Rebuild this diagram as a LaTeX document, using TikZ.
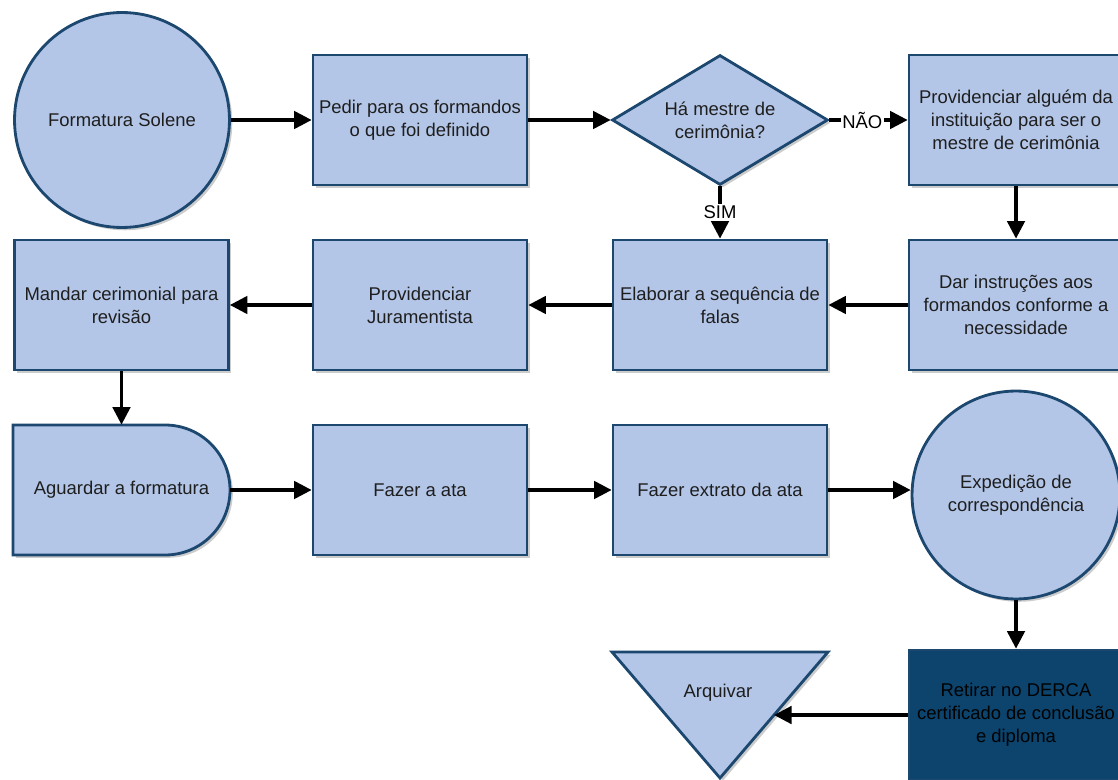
\documentclass[tikz,border=0pt]{standalone}
\usepackage{fontspec}
\setmainfont{Liberation Sans}
\usetikzlibrary{shapes.geometric, arrows.meta, shadows}

\definecolor{boxfill}{RGB}{180,198,231}
\definecolor{boxline}{RGB}{28,72,112}
\definecolor{darkfill}{RGB}{12,68,110}
\definecolor{txt}{RGB}{30,30,30}

\tikzset{
  shade/.style={drop shadow={shadow xshift=1.6pt, shadow yshift=-1.6pt, opacity=0.4}},
  base/.style={draw=boxline, line width=1.6pt, fill=boxfill, text=txt, align=center,
    font=\fontsize{10.5}{13}\selectfont, inner sep=0pt, shade},
  process/.style={base, rectangle, minimum width=4.28cm, minimum height=2.6cm},
  terminal/.style={base, circle, minimum size=4.3cm},
  decision/.style={base, diamond, aspect=1.66, minimum width=4.32cm, minimum height=2.6cm},
  darkbox/.style={process, fill=darkfill, text={RGB:red,225;green,232;blue,240}},
  plain/.style={align=center, text=txt, font=\fontsize{10.5}{13}\selectfont, inner sep=0pt},
  flow/.style={line width=1.8pt, -{Triangle[length=10pt,width=10pt]}},
  lbl/.style={fill=white, inner sep=1pt, text=black, font=\fontsize{10.5}{13}\selectfont}
}

\begin{document}
\begin{tikzpicture}[x=0.02cm, y=-0.02cm]
\useasboundingbox (0,0) rectangle (1118,780);

% row 1
\node[terminal] (A) at (122,120) {Formatura Solene};
\node[process] (B) at (420,120) {Pedir para os formandos\\o que foi definido};
\node[decision] (C) at (720,120) {Há mestre de\\cerimônia?};
\node[process] (D) at (1016,120) {Providenciar alguém da\\instituição para ser o\\mestre de cerimônia};

% row 2
\node[process] (E) at (121.5,305) {Mandar cerimonial para\\revisão};
\node[process] (F) at (420,305) {Providenciar\\Juramentista};
\node[process] (G) at (720,305) {Elaborar a sequência de\\falas};
\node[process] (H) at (1016,305) {Dar instruções aos\\formandos conforme a\\necessidade};

% row 3: delay shape drawn as a path, text node on top
\path[draw=boxline, line width=1.6pt, fill=boxfill, shade]
  (13,425) -- (165,425) .. controls (201,425) and (230,454) .. (230,490)
  .. controls (230,526) and (201,555) .. (165,555) -- (13,555) -- cycle;
\node[plain, rectangle, minimum width=4.34cm, minimum height=2.6cm] (I) at (121.5,490) {Aguardar a formatura};
\node[process] (J) at (420,490) {Fazer a ata};
\node[process] (K) at (720,490) {Fazer extrato da ata};
\node[terminal, minimum size=4.16cm] (L) at (1016,495) {Expedição de\\correspondência};

% row 4
\node[darkbox] (M) at (1016,715) {Retirar no DERCA\\certificado de conclusão\\e diploma};
\path[draw=boxline, line width=1.6pt, fill=boxfill, shade]
  (612,652) -- (828,652) -- (720,778) -- cycle;
\node[plain] (N) at (718,693) {Arquivar};
\coordinate (Nin) at (774,715);

% connectors
\draw[flow] (A) -- (B);
\draw[flow] (B) -- (C);
\draw[flow] (C) -- node[lbl, pos=0.42] {NÃO} (D);
\draw[flow] (C) -- node[lbl] {SIM} (G);
\draw[flow] (D) -- (H);
\draw[flow] (H) -- (G);
\draw[flow] (G) -- (F);
\draw[flow] (F) -- (E);
\draw[flow] (E) -- (I);
\draw[flow] (I) -- (J);
\draw[flow] (J) -- (K);
\draw[flow] (K.east) -- (K.east -| L.west);
\draw[flow] (L) -- (M);
\draw[flow] (M.west) -- (Nin);
\end{tikzpicture}
\end{document}
